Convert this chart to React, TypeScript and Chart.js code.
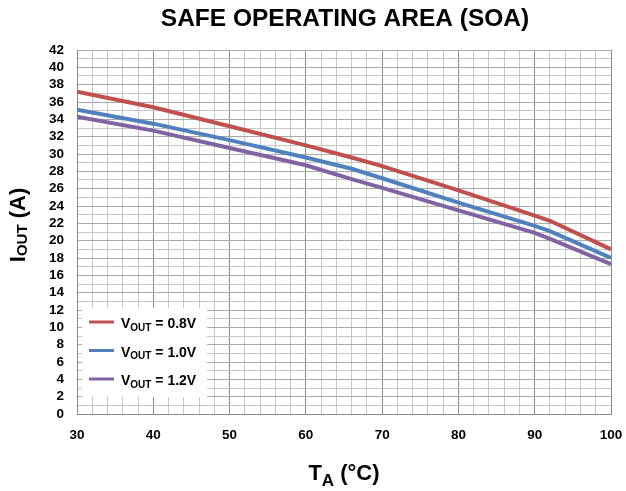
import React, { useEffect, useRef } from "react";
import { Chart, registerables } from "chart.js";

Chart.register(...registerables);

// ---- data ----
const temperatures = [30, 40, 50, 60, 66, 70, 80, 90, 92, 100];
const iout08 = [37.2, 35.4, 33.2, 31.0, 29.6, 28.6, 25.8, 22.9, 22.3, 19.0];
const iout10 = [35.1, 33.5, 31.6, 29.6, 28.3, 27.2, 24.4, 21.7, 21.1, 18.0];
const iout12 = [34.3, 32.7, 30.7, 28.7, 27.1, 26.1, 23.5, 20.9, 20.2, 17.3];
const seriesLabels = ["0.8V", "1.0V", "1.2V"];
const seriesColors = ["#C0504D", "#4F81BD", "#8064A2"];

const FONT = '"Liberation Sans", Arial, Helvetica, sans-serif';

type Part = { text: string; size: number; dy: number };

function drawRich(ctx: CanvasRenderingContext2D, x: number, y: number, parts: Part[], align: "left" | "center") {
  ctx.textBaseline = "alphabetic";
  ctx.textAlign = "left";
  const widths = parts.map((p) => {
    ctx.font = `bold ${p.size}px ${FONT}`;
    return ctx.measureText(p.text).width;
  });
  const total = widths.reduce((a, b) => a + b, 0);
  let cx = align === "center" ? x - total / 2 : x;
  parts.forEach((p, i) => {
    ctx.font = `bold ${p.size}px ${FONT}`;
    ctx.fillText(p.text, cx, y + p.dy);
    cx += widths[i];
  });
}

const decorPlugin = {
  id: "decor",
  afterDraw(chart: any) {
    const ctx: CanvasRenderingContext2D = chart.ctx;
    const area = chart.chartArea;
    ctx.save();
    ctx.fillStyle = "#000";
    // Title
    drawRich(ctx, (area.left + area.right) / 2 + 1, 25.5, [{ text: "SAFE OPERATING AREA (SOA)", size: 24.5, dy: 0 }], "center");
    // X axis title
    drawRich(
      ctx,
      (area.left + area.right) / 2,
      480,
      [
        { text: "T", size: 22, dy: 0 },
        { text: "A", size: 17, dy: 6 },
        { text: " (°C)", size: 22, dy: 0 },
      ],
      "center"
    );
    // Y axis title
    ctx.save();
    ctx.translate(25, 225);
    ctx.rotate(-Math.PI / 2);
    drawRich(
      ctx,
      0,
      0,
      [
        { text: "I", size: 22, dy: 0 },
        { text: "OUT", size: 15, dy: 2 },
        { text: " (A)", size: 22, dy: 0 },
      ],
      "center"
    );
    ctx.restore();

    // Legend
    ctx.fillStyle = "#ffffff";
    ctx.fillRect(82, 308, 125, 89);
    const rows = [322, 350.5, 379];
    seriesLabels.forEach((lab, i) => {
      const y = rows[i];
      ctx.strokeStyle = seriesColors[i];
      ctx.lineWidth = 3;
      ctx.beginPath();
      ctx.moveTo(89, y);
      ctx.lineTo(114, y);
      ctx.stroke();
      ctx.fillStyle = "#000";
      drawRich(
        ctx,
        121,
        y + 6,
        [
          { text: "V", size: 14, dy: 0 },
          { text: "OUT", size: 10, dy: 2.5 },
          { text: " = " + lab, size: 14, dy: 0 },
        ],
        "left"
      );
    });
    ctx.restore();
  },
};

export default function App() {
  const ref = useRef<HTMLCanvasElement | null>(null);

  useEffect(() => {
    if (!ref.current) return;
    const mk = (vals: number[]) => temperatures.map((t, i) => ({ x: t, y: vals[i] }));
    const chart = new Chart(ref.current, {
      type: "line",
      data: {
        datasets: [iout08, iout10, iout12].map((vals, i) => ({
          label: "VOUT = " + seriesLabels[i],
          data: mk(vals),
          borderColor: seriesColors[i],
          backgroundColor: seriesColors[i],
          borderWidth: 4,
          pointRadius: 0,
          tension: 0,
          fill: false,
        })),
      },
      options: {
        animation: false,
        responsive: false,
        maintainAspectRatio: false,
        layout: { padding: { top: 50, right: 15, left: 0, bottom: 0 } },
        plugins: {
          legend: { display: false },
          title: { display: false },
          tooltip: { enabled: false },
        },
        scales: {
          x: {
            type: "linear",
            min: 30,
            max: 100,
            afterFit: (s: any) => {
              s.height = 77;
            },
            ticks: {
              stepSize: 2,
              autoSkip: false,
              maxRotation: 0,
              padding: 0,
              color: "#000",
              font: { family: FONT, size: 13.5, weight: "bold" },
              callback: (v: any) => (Number(v) % 10 === 0 ? String(v) : ""),
            },
            grid: {
              drawTicks: true,
              tickLength: 13,
              tickColor: "rgba(0,0,0,0)",
              color: (c: any) => (c.tick && c.tick.value % 10 === 0 ? "#8a8a8a" : "#c6c6c6"),
              lineWidth: 1,
            },
            border: { color: "#8a8a8a", width: 1 },
          },
          y: {
            type: "linear",
            min: 0,
            max: 42,
            afterFit: (s: any) => {
              s.width = 77;
            },
            ticks: {
              stepSize: 1,
              autoSkip: false,
              padding: 13,
              color: "#000",
              font: { family: FONT, size: 13.5, weight: "bold" },
              callback: (v: any) => (Number(v) % 2 === 0 ? String(v) : ""),
            },
            grid: {
              drawTicks: false,
              color: (c: any) => (c.tick && c.tick.value % 2 === 0 ? "#a9a9a9" : "#c6c6c6"),
              lineWidth: 1,
            },
            border: { color: "#8a8a8a", width: 1 },
          },
        },
      },
      plugins: [decorPlugin],
    } as any);
    return () => chart.destroy();
  }, []);

  return (
    <div style={{ position: "fixed", left: 0, top: 0, width: 626, height: 491, background: "#fff" }}>
      <canvas ref={ref} width={626} height={491} style={{ width: 626, height: 491, display: "block" }} />
    </div>
  );
}
